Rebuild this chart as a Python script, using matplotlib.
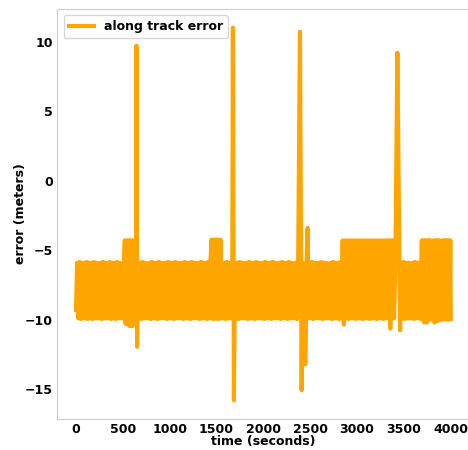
import matplotlib
matplotlib.use("Agg")
import matplotlib.pyplot as plt

plt.rcParams['font.family'] = ['DejaVu Sans']
plt.rcParams['font.weight'] = 'bold'
plt.rcParams['path.simplify'] = False

# time (seconds) and along-track error (meters)
seg_a_t = [0, 12, 25, 38, 50, 62, 75, 88, 100, 112,
           125, 138, 150, 162, 175, 188, 200, 212, 225, 238,
           250, 262, 275, 288, 300, 312, 325, 338, 350, 362,
           375, 388, 400, 412, 425, 438, 450, 462, 475, 488,
           500, 512]
seg_a_v = [-9.3, -5.9, -9.9, -5.85, -9.95, -5.9, -9.9, -5.95, -9.9, -5.85,
           -9.95, -5.9, -9.9, -5.9, -9.95, -5.85, -9.9, -5.9, -9.9, -5.95,
           -9.9, -5.9, -9.95, -5.85, -9.9, -5.9, -9.9, -5.95, -9.9, -5.85,
           -9.95, -5.9, -9.9, -5.9, -9.95, -5.85, -9.9, -5.9, -9.9, -5.95,
           -9.9, -5.9]

seg_b_t = [521, 530, 540, 550, 560, 568, 577, 586, 595, 604,
           613, 622, 631, 640, 645, 652, 660]
seg_b_v = [-4.3, -10.3, -4.3, -10.3, -4.3, -10.45, -4.3, -10.45, -4.3, -10.45,
           -4.3, -9.9, -4.3, -9.9, 9.7, -11.95, -5.9]

seg_c_t = [672, 685, 698, 710, 722, 735, 748, 760, 772, 785,
           798, 810, 822, 835, 848, 860, 872, 885, 898, 910,
           922, 935, 948, 960, 972, 985, 998, 1010, 1022, 1035,
           1048, 1060, 1072, 1085, 1098, 1110, 1122, 1135, 1148, 1160,
           1172, 1185, 1198, 1210, 1222, 1235, 1248, 1260, 1272, 1285,
           1298, 1310, 1322, 1335, 1348, 1360, 1372, 1385, 1398, 1410,
           1422, 1435]
seg_c_v = [-9.9, -5.9, -9.95, -5.85, -9.9, -5.9, -9.9, -5.95, -9.9, -5.9,
           -9.95, -5.85, -9.9, -5.9, -9.9, -5.9, -9.95, -5.85, -9.9, -5.9,
           -9.9, -5.95, -9.9, -5.9, -9.95, -5.85, -9.9, -5.9, -9.9, -5.9,
           -9.95, -5.85, -9.9, -5.9, -9.9, -5.95, -9.9, -5.9, -9.95, -5.85,
           -9.9, -5.9, -9.9, -5.9, -9.95, -5.85, -9.9, -5.9, -9.9, -5.95,
           -9.9, -5.9, -9.95, -5.85, -9.9, -5.9, -9.9, -5.9, -9.95, -5.85,
           -9.9, -5.9]

seg_d_t = [1447, 1455, 1463, 1471, 1479, 1487, 1495, 1503, 1511, 1519,
           1527, 1535, 1543, 1551, 1562, 1574, 1586, 1598, 1610, 1622,
           1634, 1646, 1658, 1667, 1675, 1686, 1697]
seg_d_v = [-4.25, -9.9, -4.25, -9.95, -4.25, -9.9, -4.25, -9.9, -4.25, -9.95,
           -4.25, -9.9, -4.25, -9.9, -5.9, -9.9, -5.9, -9.95, -5.85, -9.9,
           -5.9, -9.9, -5.9, -9.9, 11.0, -15.8, -5.9]

seg_e_t = [1710, 1722, 1735, 1748, 1760, 1772, 1785, 1798, 1810, 1822,
           1835, 1848, 1860, 1872, 1885, 1898, 1910, 1922, 1935, 1948,
           1960, 1972, 1985, 1998, 2010, 2022, 2035, 2048, 2060, 2072,
           2085, 2098, 2110, 2122, 2135, 2148, 2160, 2172, 2185, 2198,
           2210, 2222, 2235, 2248, 2260, 2272, 2285, 2298, 2310, 2322,
           2335, 2348, 2360, 2372]
seg_e_v = [-9.9, -5.9, -9.95, -5.85, -9.9, -5.9, -9.9, -5.95, -9.9, -5.9,
           -9.95, -5.85, -9.9, -5.9, -9.9, -5.9, -9.95, -5.85, -9.9, -5.9,
           -9.9, -5.95, -9.9, -5.9, -9.95, -5.85, -9.9, -5.9, -9.9, -5.9,
           -9.95, -5.85, -9.9, -5.9, -9.9, -5.95, -9.9, -5.9, -9.95, -5.85,
           -9.9, -5.9, -9.9, -5.9, -9.95, -5.85, -9.9, -5.9, -9.9, -5.95,
           -9.9, -5.9, -9.95, -5.85]

seg_f_t = [2391, 2409, 2420, 2440, 2450, 2462, 2473, 2483,
           2495, 2508, 2520, 2532, 2545, 2558, 2570, 2582, 2595, 2608,
           2620, 2632, 2645, 2658, 2670, 2682, 2695, 2708, 2720, 2732,
           2745, 2758, 2770, 2782, 2795, 2808, 2820, 2832]
seg_f_v = [10.7, -15.07, -5.9, -13.2, -13.2, -5.9, -3.4, -9.9,
           -5.9, -9.9, -5.85, -9.95, -5.9, -9.9, -5.95, -9.9, -5.9, -9.9,
           -5.85, -9.95, -5.9, -9.9, -5.9, -9.9, -5.95, -9.9, -5.9, -9.95,
           -5.85, -9.9, -5.9, -9.9, -5.9, -9.95, -5.85, -9.9]

seg_g_t = [2847, 2860, 2872, 2885, 2898, 2910, 2922, 2935, 2948, 2960,
           2972, 2985, 2998, 3010, 3022, 3035, 3048, 3060, 3072, 3085,
           3098, 3110, 3122, 3135, 3148, 3160, 3172, 3185, 3198, 3210,
           3222, 3235, 3248, 3260, 3272, 3285, 3298, 3310,
           3322, 3335, 3345, 3355, 3365, 3375, 3385, 3395]
seg_g_v = [-4.3, -10.35, -4.3, -9.9, -4.3, -9.95, -4.3, -9.9, -4.3, -9.9,
           -4.3, -9.95, -4.3, -9.9, -4.3, -9.9, -4.3, -9.95, -4.3, -9.9,
           -4.3, -9.9, -4.3, -9.95, -4.3, -9.9, -4.3, -9.9, -4.3, -9.95,
           -4.3, -9.9, -4.3, -9.9, -4.3, -9.95, -4.3, -9.9,
           -4.3, -9.9, -4.3, -10.64, -4.3, -9.9, -4.3, -9.9]

seg_h_t = [3410, 3431, 3460, 3470, 3482, 3495, 3508, 3520, 3532, 3545,
           3558, 3570, 3582, 3595, 3608, 3620, 3632, 3645, 3658, 3670,
           3682]
seg_h_v = [-5.9, 9.2, -10.76, -5.9, -9.9, -5.85, -9.95, -5.9, -9.9, -5.9,
           -9.9, -5.95, -9.9, -5.9, -9.95, -5.85, -9.9, -5.9, -9.9, -5.9,
           -9.95]

seg_i_t = [3692, 3700, 3708, 3716, 3724, 3732, 3740, 3748, 3756, 3764,
           3772, 3780, 3788, 3796, 3804, 3812, 3820, 3828, 3836, 3844,
           3852, 3860, 3868, 3876, 3884, 3892, 3900, 3908, 3916, 3924,
           3932, 3940, 3948, 3956, 3964, 3972, 3980, 3988, 3996, 4001]
seg_i_v = [-4.3, -10.0, -4.3, -10.2, -4.3, -9.95, -4.3, -10.2, -4.3, -10.0,
           -4.3, -9.95, -4.3, -10.0, -5.9, -10.0, -4.3, -10.2, -4.3, -10.0,
           -4.3, -10.1, -4.3, -9.95, -4.3, -10.0, -5.9, -10.0, -4.3, -9.95,
           -4.3, -10.0, -4.3, -9.95, -4.3, -10.0, -4.3, -9.95, -4.3, -9.95]

time_s = seg_a_t + seg_b_t + seg_c_t + seg_d_t + seg_e_t + seg_f_t + seg_g_t + seg_h_t + seg_i_t
error_m = seg_a_v + seg_b_v + seg_c_v + seg_d_v + seg_e_v + seg_f_v + seg_g_v + seg_h_v + seg_i_v

x_ticks = [0, 500, 1000, 1500, 2000, 2500, 3000, 3500, 4000]
y_ticks = [-15, -10, -5, 0, 5, 10]

fig = plt.figure(figsize=(4.68, 4.5), dpi=100)
ax = fig.add_axes([0.1224, 0.0689, 0.8808, 0.9111])
ax.plot(time_s, error_m, color='orange', linewidth=3, label='along track error')
ax.set_xticks(x_ticks)
ax.set_yticks(y_ticks)
ax.tick_params(length=0, labelsize=9, pad=3)
for lbl in ax.get_xticklabels() + ax.get_yticklabels():
    lbl.set_fontweight('bold')
ax.set_xlabel('time (seconds)', fontsize=9, fontweight='bold', labelpad=-1)
ax.set_ylabel('error (meters)', fontsize=9, fontweight='bold', labelpad=-1)
for sp in ax.spines.values():
    sp.set_color('0.8')
ax.legend(loc='upper left', prop={'weight': 'bold', 'size': 9})
fig.savefig('out.png', dpi=100)
